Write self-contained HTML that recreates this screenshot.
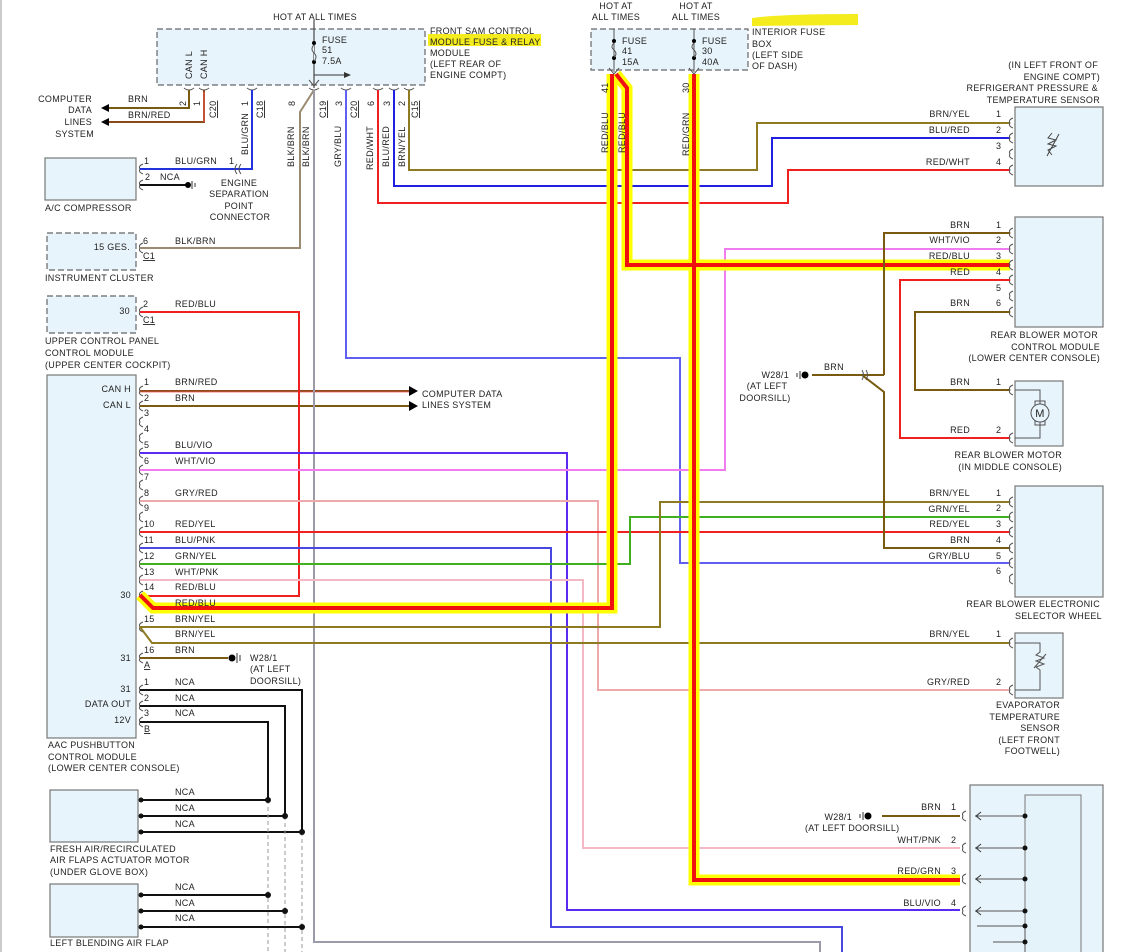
<!DOCTYPE html>
<html><head><meta charset="utf-8"><style>
html,body{margin:0;padding:0;background:#fff;}
svg{display:block;}
text{font-family:"Liberation Sans",sans-serif;font-size:9px;fill:#222;letter-spacing:0.3px;}
.r{text-anchor:end;}
.w{fill:none;stroke-width:2;}
.box{fill:#e8f4fb;stroke:#777;stroke-width:1.2;}
.dbox{fill:#e8f4fb;stroke:#666;stroke-width:1.2;stroke-dasharray:6,3;}
.c{fill:none;stroke:#555;stroke-width:1;}
</style></head><body>
<svg width="1138" height="952" viewBox="0 0 1138 952" xmlns="http://www.w3.org/2000/svg">
<defs>
<path id="cr" d="M3,-5 Q-2,-3 0,0 Q-2,3 3,5" class="c"/>
</defs>
<line x1="1" y1="0" x2="1" y2="952" stroke="#999"/>

<rect x="317" y="41" width="42" height="12" fill="#f4ec1c"/>
<rect x="428" y="34" width="113" height="12" fill="#f4ec1c"/>
<rect x="620" y="44" width="20" height="11" fill="#f4ec1c"/>
<rect x="700" y="40" width="22" height="12" fill="#f4ec1c"/>
<path d="M752,26 L752,18 Q780,14 858,14 L858,25 Z" fill="#f4ec1c"/>

<rect class="dbox" x="157" y="29" width="268" height="56"/>
<text x="315" y="20" text-anchor="middle">HOT AT ALL TIMES</text>
<text transform="translate(192,79) rotate(-90)">CAN L</text>
<text transform="translate(207,79) rotate(-90)">CAN H</text>
<line x1="314" y1="20" x2="314" y2="88" stroke="#555" stroke-width="1.3"/>
<circle cx="314" cy="43" r="2"/><circle cx="314" cy="62" r="2"/>
<path d="M314,45 q-4,4 0,8 q4,4 0,8" fill="#e8f4fb" stroke="#555"/>
<text x="322" y="43">FUSE</text><text x="322" y="53">51</text><text x="322" y="64">7.5A</text>
<line x1="314" y1="75" x2="345" y2="75" stroke="#333"/><path d="M351,75 l-7,-3 v6z" fill="#333"/>
<path d="M309,80 l5,6 l5,-6" class="c"/>
<text x="430" y="34">FRONT SAM CONTROL</text>
<text x="430" y="45">MODULE FUSE &amp; RELAY</text>
<text x="430" y="56">MODULE</text>
<text x="430" y="67">(LEFT REAR OF</text>
<text x="430" y="78">ENGINE COMPT)</text>
<path d="M184,88 q5,4 10,0 M199,88 q5,4 10,0 M247,88 q5,4 10,0 M309,88 q5,4 10,0 M341,88 q5,4 10,0 M373,88 q5,4 10,0 M389,88 q5,4 10,0 M404,88 q5,4 10,0" class="c"/>
<text transform="translate(186,106) rotate(-90)">2</text>
<text transform="translate(200,106) rotate(-90)">1</text>
<text transform="translate(216,118) rotate(-90)" text-decoration="underline">C20</text>
<text transform="translate(248,106) rotate(-90)">1</text>
<text transform="translate(263,118) rotate(-90)" text-decoration="underline">C18</text>
<text transform="translate(295,106) rotate(-90)">8</text>
<text transform="translate(326,118) rotate(-90)" text-decoration="underline">C19</text>
<text transform="translate(342,106) rotate(-90)">3</text>
<text transform="translate(357,118) rotate(-90)" text-decoration="underline">C20</text>
<text transform="translate(374,106) rotate(-90)">6</text>
<text transform="translate(390,106) rotate(-90)">3</text>
<text transform="translate(405,106) rotate(-90)">2</text>
<text transform="translate(418,118) rotate(-90)" text-decoration="underline">C15</text>
<text transform="translate(248,155) rotate(-90)">BLU/GRN</text>
<text transform="translate(294,167) rotate(-90)">BLK/BRN</text>
<text transform="translate(309,167) rotate(-90)">BLK/BRN</text>
<text transform="translate(341,167) rotate(-90)">GRY/BLU</text>
<text transform="translate(373,170) rotate(-90)">RED/WHT</text>
<text transform="translate(389,167) rotate(-90)">BLU/RED</text>
<text transform="translate(405,167) rotate(-90)">BRN/YEL</text>

<text class="r" x="92" y="102">COMPUTER</text>
<text class="r" x="92" y="113">DATA</text>
<text class="r" x="92" y="125">LINES</text>
<text class="r" x="94" y="137">SYSTEM</text>
<text x="128" y="102">BRN</text><text x="128" y="118">BRN/RED</text>
<path class="w" stroke="#7a5a10" d="M189,90 V108 H108"/>
<path d="M101,108 l8,-4 v8z"/>
<path class="w" stroke="#8a4a1a" d="M204,90 V122 H108"/>
<line x1="204" y1="92" x2="204" y2="122" stroke="#f55" stroke-width="1"/>
<path d="M101,122 l8,-4 v8z"/>

<rect class="box" x="45" y="158" width="91" height="42"/>
<text x="45" y="211">A/C COMPRESSOR</text>
<use href="#cr" x="140" y="169"/><use href="#cr" x="140" y="185"/>
<text x="144" y="164">1</text><text x="145" y="180">2</text><text x="160" y="180">NCA</text>
<text x="175" y="164">BLU/GRN</text><text x="229" y="164">1</text>
<path class="w" stroke="#2233dd" d="M252,90 V169 H140"/>
<path d="M237,164 q-4,5 0,10 M241,164 q-4,5 0,10" class="c"/>
<line x1="140" y1="185" x2="188" y2="185" stroke="#111" stroke-width="2"/>
<circle cx="188" cy="185" r="3"/><path d="M192,181 v8 M195,183 v4" stroke="#333"/>
<text x="239" y="186" text-anchor="middle">ENGINE</text>
<text x="239" y="197" text-anchor="middle">SEPARATION</text>
<text x="239" y="209" text-anchor="middle">POINT</text>
<text x="240" y="220" text-anchor="middle">CONNECTOR</text>

<rect class="dbox" x="47" y="233" width="89" height="37"/>
<text class="r" x="130" y="250">15 GES.</text>
<use href="#cr" x="140" y="248"/>
<text x="143" y="244">6</text><text x="143" y="259" text-decoration="underline">C1</text>
<text x="175" y="244">BLK/BRN</text>
<text x="45" y="281">INSTRUMENT CLUSTER</text>
<path class="w" stroke="#9a8a70" d="M314,90 L300,112 V248 H140"/>

<rect class="dbox" x="47" y="296" width="89" height="37"/>
<text class="r" x="130" y="314">30</text>
<use href="#cr" x="140" y="312"/>
<text x="143" y="307">2</text><text x="143" y="323" text-decoration="underline">C1</text>
<text x="175" y="307">RED/BLU</text>
<text x="45" y="344">UPPER CONTROL PANEL</text>
<text x="45" y="356">CONTROL MODULE</text>
<text x="45" y="368">(UPPER CENTER COCKPIT)</text>

<rect class="box" x="47" y="375" width="89" height="363"/>
<text class="r" x="131" y="392">CAN H</text>
<text class="r" x="131" y="408">CAN L</text>
<text class="r" x="131" y="598">30</text>
<text class="r" x="131" y="661">31</text>
<text class="r" x="131" y="692">31</text>
<text class="r" x="131" y="707">DATA OUT</text>
<text class="r" x="131" y="723">12V</text>
<text x="48" y="748">AAC PUSHBUTTON</text>
<text x="48" y="760">CONTROL MODULE</text>
<text x="48" y="771">(LOWER CENTER CONSOLE)</text>
<g>
<use href="#cr" x="140" y="391"/><use href="#cr" x="140" y="406"/><use href="#cr" x="140" y="422"/><use href="#cr" x="140" y="438"/>
<use href="#cr" x="140" y="453"/><use href="#cr" x="140" y="470"/><use href="#cr" x="140" y="485"/><use href="#cr" x="140" y="501"/>
<use href="#cr" x="140" y="517"/><use href="#cr" x="140" y="532"/><use href="#cr" x="140" y="548"/><use href="#cr" x="140" y="564"/>
<use href="#cr" x="140" y="580"/><use href="#cr" x="140" y="596"/><use href="#cr" x="140" y="627"/><use href="#cr" x="140" y="658"/>
<use href="#cr" x="140" y="690"/><use href="#cr" x="140" y="706"/><use href="#cr" x="140" y="722"/>
</g>
<g>
<text x="144" y="385">1</text><text x="175" y="385">BRN/RED</text>
<text x="144" y="401">2</text><text x="175" y="401">BRN</text>
<text x="144" y="416">3</text><text x="144" y="432">4</text>
<text x="144" y="448">5</text><text x="175" y="448">BLU/VIO</text>
<text x="144" y="464">6</text><text x="175" y="464">WHT/VIO</text>
<text x="144" y="480">7</text>
<text x="144" y="496">8</text><text x="175" y="496">GRY/RED</text>
<text x="144" y="511">9</text>
<text x="144" y="527">10</text><text x="175" y="527">RED/YEL</text>
<text x="144" y="543">11</text><text x="175" y="543">BLU/PNK</text>
<text x="144" y="559">12</text><text x="175" y="559">GRN/YEL</text>
<text x="144" y="575">13</text><text x="175" y="575">WHT/PNK</text>
<text x="144" y="590">14</text><text x="175" y="590">RED/BLU</text>
<text x="144" y="622">15</text><text x="175" y="622">BRN/YEL</text>
<text x="175" y="637">BRN/YEL</text>
<text x="144" y="653">16</text><text x="175" y="653">BRN</text>
<text x="144" y="668" text-decoration="underline">A</text>
<text x="144" y="685">1</text><text x="175" y="685">NCA</text>
<text x="144" y="701">2</text><text x="175" y="701">NCA</text>
<text x="144" y="716">3</text><text x="175" y="716">NCA</text>
<text x="144" y="732" text-decoration="underline">B</text>
</g>
<path class="w" stroke="#8a4a1a" d="M140,391 H410"/><line x1="140" y1="392" x2="410" y2="392" stroke="#e55" stroke-width="0.8"/>
<path d="M418,391 l-9,-5 v10z"/>
<path class="w" stroke="#7a5a10" d="M140,406 H410"/><path d="M418,406 l-9,-5 v10z"/>
<text x="422" y="397">COMPUTER DATA</text><text x="422" y="408">LINES SYSTEM</text>

<path class="w" stroke="#9a9aa8" stroke-width="1.5" d="M314,90 V942 H820 V952"/>
<path class="w" stroke="#6060ee" stroke-width="1.5" d="M346,90 V358 H680 V563 H1010"/>
<path class="w" stroke="#f02020" stroke-width="1.5" d="M378,90 V203 H788 V170 H1010"/>
<path class="w" stroke="#2020e0" d="M394,90 V186 H772 V138 H1010"/>
<path class="w" stroke="#8d7a22" d="M409,90 V170 H757 V123 H1010"/>
<path class="w" stroke="#f02020" stroke-width="1.5" d="M140,596 H299 V312 H140"/>
<path class="w" stroke="#5a2af0" stroke-width="1.5" d="M140,453 H567 V910 H960"/>
<path class="w" stroke="#f07cf0" stroke-width="1.5" d="M140,470 H725 V249 H1010"/>
<path class="w" stroke="#eeaaaa" d="M140,501 H598 V690 H1010"/>
<path class="w" stroke="#f02020" stroke-width="1.5" d="M140,532 H1010"/>
<path class="w" stroke="#4848e0" stroke-width="1.5" d="M140,548 H551 V927 H842 V952"/>
<path class="w" stroke="#40b020" stroke-width="1.5" d="M140,564 H630 V517 H1010"/>
<path class="w" stroke="#f4b8c4" d="M140,580 H583 V848 H960"/>
<path class="w" stroke="#8d7a22" d="M140,627 H660 V502 H1010"/>
<path class="w" stroke="#8d7a22" d="M140,627 L152,643 H1010"/>
<path class="w" stroke="#7a5a10" d="M140,658 H228"/>
<circle cx="232" cy="658" r="3.5"/><path d="M237,653 v10 M240,655 v6" stroke="#333"/>
<text x="250" y="661">W28/1</text><text x="250" y="672">(AT LEFT</text><text x="250" y="684">DOORSILL)</text>

<path class="w" stroke="#111" d="M140,690 H302 V832 H140 M140,706 H285 V816 H140 M140,722 H268 V800 H140"/>
<path d="M268,800 V952 M285,816 V952 M302,832 V952" stroke="#999" stroke-dasharray="4,3" fill="none"/>
<path class="w" stroke="#111" d="M140,895 H268 M140,911 H285 M140,927 H302"/>
<g fill="#111"><circle cx="268" cy="800" r="3"/><circle cx="285" cy="816" r="3"/><circle cx="302" cy="832" r="3"/>
<circle cx="268" cy="895" r="3"/><circle cx="285" cy="911" r="3"/><circle cx="302" cy="927" r="3"/>
<circle cx="141" cy="800" r="2.5"/><circle cx="141" cy="816" r="2.5"/><circle cx="141" cy="832" r="2.5"/>
<circle cx="141" cy="895" r="2.5"/><circle cx="141" cy="911" r="2.5"/><circle cx="141" cy="927" r="2.5"/></g>
<rect class="box" x="50" y="790" width="88" height="52"/>
<rect class="box" x="50" y="884" width="88" height="53"/>
<text x="175" y="795">NCA</text><text x="175" y="811">NCA</text><text x="175" y="827">NCA</text>
<text x="175" y="890">NCA</text><text x="175" y="906">NCA</text><text x="175" y="921">NCA</text>
<text x="50" y="852">FRESH AIR/RECIRCULATED</text>
<text x="50" y="863">AIR FLAPS ACTUATOR MOTOR</text>
<text x="50" y="875">(UNDER GLOVE BOX)</text>
<text x="50" y="946">LEFT BLENDING AIR FLAP</text>

<rect class="dbox" x="591" y="29" width="157" height="41"/>
<text x="616" y="9" text-anchor="middle">HOT AT</text><text x="616" y="20" text-anchor="middle">ALL TIMES</text>
<text x="696" y="9" text-anchor="middle">HOT AT</text><text x="696" y="20" text-anchor="middle">ALL TIMES</text>
<line x1="614" y1="29" x2="614" y2="72" stroke="#555"/><line x1="694" y1="29" x2="694" y2="72" stroke="#555"/>
<circle cx="614" cy="41" r="2"/><circle cx="614" cy="58" r="2"/><circle cx="694" cy="41" r="2"/><circle cx="694" cy="58" r="2"/>
<path d="M614,43 q-4,4 0,7 q4,4 0,7 M694,43 q-4,4 0,7 q4,4 0,7" fill="none" stroke="#555"/>
<text x="622" y="44">FUSE</text><text x="622" y="54">41</text><text x="622" y="65">15A</text>
<text x="702" y="44">FUSE</text><text x="702" y="54">30</text><text x="702" y="65">40A</text>
<text x="752" y="35">INTERIOR FUSE</text><text x="752" y="47">BOX</text><text x="752" y="58">(LEFT SIDE</text><text x="752" y="69">OF DASH)</text>

<g fill="none" stroke-linejoin="miter">
<path d="M612,74 V608 H153 L140,595" stroke="#ffff00" stroke-width="11"/>
<path d="M616,74 L627,88 V265 H1010" stroke="#ffff00" stroke-width="11"/>
<path d="M694,74 V880 H960" stroke="#ffff00" stroke-width="11"/>
<path d="M612,74 V608 H153 L140,595" stroke="#f01010" stroke-width="4"/>
<path d="M616,74 L627,88 V265 H1010" stroke="#f01010" stroke-width="4"/>
<path d="M694,74 V880 H960" stroke="#f01010" stroke-width="4"/>
</g>
<path d="M609,68 l5,6 l5,-6 M689,68 l5,6 l5,-6" class="c"/>
<text transform="translate(608,93) rotate(-90)">41</text>
<text transform="translate(608,153) rotate(-90)">RED/BLU</text>
<text transform="translate(625,153) rotate(-90)">RED/BLU</text>
<text transform="translate(689,93) rotate(-90)">30</text>
<text transform="translate(689,156) rotate(-90)">RED/GRN</text>
<text x="175" y="606">RED/BLU</text>

<text class="r" x="1098" y="68">(IN LEFT FRONT OF</text>
<text class="r" x="1100" y="80">ENGINE COMPT)</text>
<text class="r" x="1098" y="91">REFRIGERANT PRESSURE &amp;</text>
<text class="r" x="1100" y="103">TEMPERATURE SENSOR</text>
<rect class="box" x="1015" y="107" width="88" height="79"/>
<path d="M1052,133 l-4,5 l8,2 l-8,4 l8,2 l-8,4 l4,5 M1047,156 l12,-22" fill="none" stroke="#444"/>
<text class="r" x="970" y="117">BRN/YEL</text><text class="r" x="970" y="133">BLU/RED</text><text class="r" x="970" y="165">RED/WHT</text>
<text x="996" y="117">1</text><text x="996" y="133">2</text><text x="996" y="149">3</text><text x="996" y="165">4</text>
<use href="#cr" x="1010" y="123"/><use href="#cr" x="1010" y="138"/><use href="#cr" x="1010" y="154"/><use href="#cr" x="1010" y="170"/>

<rect class="box" x="1015" y="217" width="88" height="110"/>
<text class="r" x="970" y="228">BRN</text><text class="r" x="970" y="243">WHT/VIO</text><text class="r" x="970" y="259">RED/BLU</text><text class="r" x="970" y="275">RED</text><text class="r" x="970" y="306">BRN</text>
<text x="996" y="228">1</text><text x="996" y="243">2</text><text x="996" y="259">3</text><text x="996" y="275">4</text><text x="996" y="291">5</text><text x="996" y="306">6</text>
<use href="#cr" x="1010" y="233"/><use href="#cr" x="1010" y="249"/><use href="#cr" x="1010" y="265"/><use href="#cr" x="1010" y="280"/><use href="#cr" x="1010" y="296"/><use href="#cr" x="1010" y="312"/>
<text class="r" x="1098" y="338">REAR BLOWER MOTOR</text>
<text class="r" x="1100" y="350">CONTROL MODULE</text>
<text class="r" x="1100" y="361">(LOWER CENTER CONSOLE)</text>
<path class="w" stroke="#7a5a10" d="M1010,233 H884 V375 M862,375 L884,392 V548 H1010"/>
<path class="w" stroke="#7a5a10" d="M812,375 H884"/>
<path d="M862,370 q3,5 0,10 M866,370 q3,5 0,10" class="c"/>
<path class="w" stroke="#f02020" d="M1010,280 H900 V438 H1010"/>
<path class="w" stroke="#7a5a10" d="M1010,312 H915 V390 H1010"/>
<circle cx="805" cy="375" r="3.5"/><path d="M800,371 v8 M797,373 v4" stroke="#333"/>
<text class="r" x="789" y="378">W28/1</text><text x="767" y="389" text-anchor="middle">(AT LEFT</text><text x="765" y="401" text-anchor="middle">DOORSILL)</text>
<text x="824" y="370">BRN</text>

<rect class="box" x="1015" y="381" width="48" height="65"/>
<path d="M1015,390 H1040 V404 M1040,422 V438 H1015" fill="none" stroke="#555"/>
<rect x="1035" y="401" width="10" height="24" fill="none" stroke="#555"/>
<circle cx="1040" cy="413" r="9" fill="#e8f4fb" stroke="#555"/>
<text x="1040" y="417" text-anchor="middle" style="font-size:11px">M</text>
<text class="r" x="970" y="385">BRN</text><text class="r" x="970" y="433">RED</text>
<text x="996" y="385">1</text><text x="996" y="433">2</text>
<use href="#cr" x="1010" y="390"/><use href="#cr" x="1010" y="438"/>
<text class="r" x="1062" y="458">REAR BLOWER MOTOR</text>
<text class="r" x="1062" y="470">(IN MIDDLE CONSOLE)</text>

<rect class="box" x="1015" y="486" width="88" height="111"/>
<text class="r" x="970" y="496">BRN/YEL</text><text class="r" x="970" y="512">GRN/YEL</text><text class="r" x="970" y="527">RED/YEL</text><text class="r" x="970" y="543">BRN</text><text class="r" x="970" y="559">GRY/BLU</text>
<text x="996" y="496">1</text><text x="996" y="511">2</text><text x="996" y="527">3</text><text x="996" y="543">4</text><text x="996" y="559">5</text><text x="996" y="574">6</text>
<use href="#cr" x="1010" y="502"/><use href="#cr" x="1010" y="517"/><use href="#cr" x="1010" y="532"/><use href="#cr" x="1010" y="548"/><use href="#cr" x="1010" y="563"/><use href="#cr" x="1010" y="579"/>
<text class="r" x="1100" y="607">REAR BLOWER ELECTRONIC</text>
<text class="r" x="1102" y="619">SELECTOR WHEEL</text>

<rect class="box" x="1015" y="633" width="48" height="65"/>
<path d="M1015,643 H1040 V652 l-4,3 l8,3 l-8,3 l8,3 l-8,3 l4,3 V690 H1015 M1034,668 l12,-14" fill="none" stroke="#555"/>
<text class="r" x="970" y="637">BRN/YEL</text><text class="r" x="970" y="685">GRY/RED</text>
<text x="996" y="637">1</text><text x="996" y="685">2</text>
<use href="#cr" x="1010" y="643"/><use href="#cr" x="1010" y="690"/>
<text class="r" x="1060" y="708">EVAPORATOR</text>
<text class="r" x="1060" y="720">TEMPERATURE</text>
<text class="r" x="1060" y="731">SENSOR</text>
<text class="r" x="1060" y="743">(LEFT FRONT</text>
<text class="r" x="1060" y="754">FOOTWELL)</text>

<rect class="box" x="970" y="785" width="133" height="175"/>
<rect x="1025" y="795" width="56" height="165" fill="#e4f2fa" stroke="#777"/>
<path d="M975,816 H1025 M975,848 H1025 M975,879 H1025 M975,911 H1025 M977,926 H1025 V952 M993,942 H1025" stroke="#555" fill="none"/>
<path d="M981,812 l-5,4 l5,4 M981,844 l-5,4 l5,4 M981,875 l-5,4 l5,4 M981,907 l-5,4 l5,4" fill="none" stroke="#333"/>
<g fill="#111"><circle cx="1025" cy="816" r="2.5"/><circle cx="1025" cy="848" r="2.5"/><circle cx="1025" cy="879" r="2.5"/><circle cx="1025" cy="911" r="2.5"/><circle cx="1025" cy="926" r="2.5"/><circle cx="1025" cy="942" r="2.5"/></g>
<use href="#cr" x="963" y="816"/><use href="#cr" x="963" y="848"/><use href="#cr" x="963" y="879"/><use href="#cr" x="963" y="911"/>
<path class="w" stroke="#7a5a10" d="M882,816 H960"/>
<circle cx="868" cy="816" r="3.5"/><path d="M863,812 v8 M860,814 v4" stroke="#333"/>
<text class="r" x="852" y="820">W28/1</text><text x="805" y="831">(AT LEFT DOORSILL)</text>
<text class="r" x="941" y="810">BRN</text><text x="951" y="810">1</text>
<text class="r" x="941" y="843">WHT/PNK</text><text x="951" y="843">2</text>
<text class="r" x="941" y="874">RED/GRN</text><text x="951" y="874">3</text>
<text class="r" x="941" y="906">BLU/VIO</text><text x="951" y="906">4</text>
</svg>
</body></html>
